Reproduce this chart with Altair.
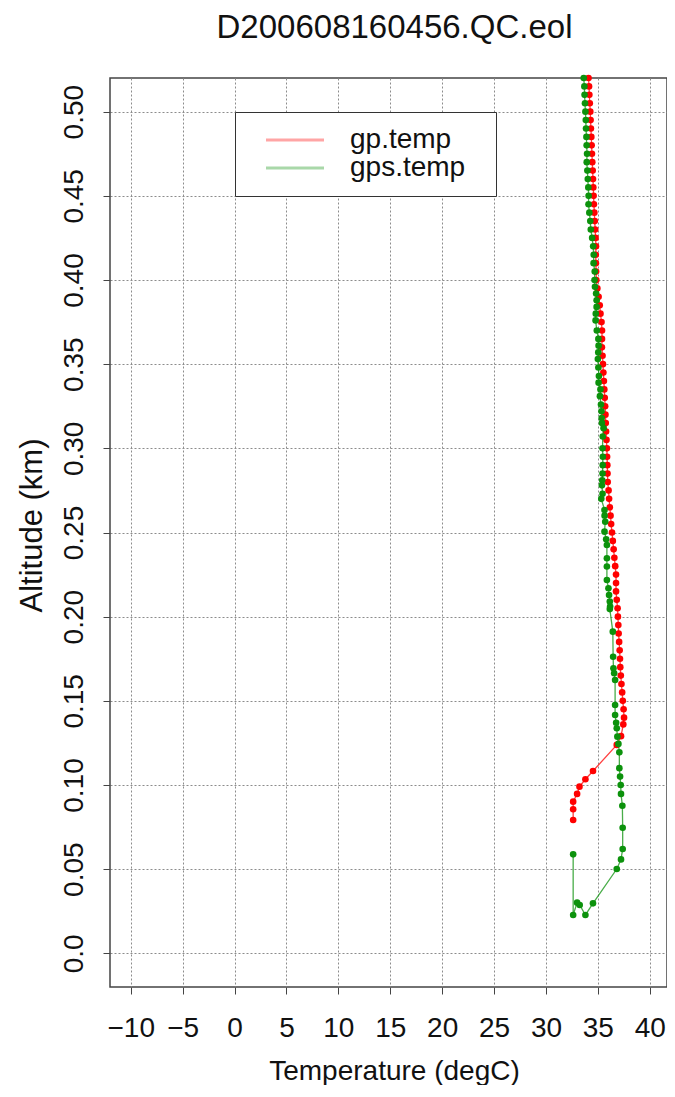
import altair as alt
import pandas as pd

# gp.temp series (altitude km, temperature degC), in recorded order
gp_alt = [0.520, 0.515, 0.510, 0.505, 0.500, 0.495, 0.490, 0.485, 0.480, 0.475,
          0.470, 0.465, 0.460, 0.455, 0.450, 0.445, 0.440, 0.435, 0.430, 0.425,
          0.420, 0.415, 0.410, 0.405, 0.400, 0.395, 0.390, 0.385, 0.380, 0.375,
          0.370, 0.365, 0.360, 0.355, 0.350, 0.345, 0.340, 0.335, 0.330, 0.325,
          0.320, 0.315, 0.310, 0.305, 0.300, 0.295, 0.290, 0.285, 0.280, 0.275,
          0.270, 0.265, 0.260, 0.255, 0.250, 0.245, 0.240, 0.235, 0.230, 0.225,
          0.220, 0.215, 0.210, 0.205, 0.200, 0.195, 0.190, 0.185, 0.180, 0.175,
          0.170, 0.165, 0.160, 0.155, 0.150, 0.145, 0.140, 0.136, 0.129, 0.1238,
          0.1083, 0.1034, 0.099, 0.0947, 0.0901, 0.0856, 0.0792]
gp_temp = [34.10, 34.15, 34.18, 34.22, 34.27, 34.30, 34.33, 34.37, 34.40, 34.43,
           34.46, 34.50, 34.53, 34.56, 34.59, 34.62, 34.66, 34.70, 34.74, 34.78,
           34.82, 34.80, 34.81, 34.83, 34.85, 34.95, 35.07, 35.18, 35.25, 35.35,
           35.40, 35.40, 35.39, 35.45, 35.49, 35.53, 35.58, 35.62, 35.66, 35.70,
           35.73, 35.76, 35.79, 35.83, 35.87, 35.89, 35.91, 35.93, 35.95, 36.03,
           36.08, 36.15, 36.22, 36.28, 36.36, 36.44, 36.52, 36.59, 36.67, 36.75,
           36.75, 36.75, 36.82, 36.90, 36.93, 36.97, 37.00, 37.05, 37.10, 37.13,
           37.16, 37.21, 37.27, 37.34, 37.40, 37.48, 37.52, 37.45, 37.23, 36.82,
           34.53, 33.80, 33.23, 33.00, 32.62, 32.62, 32.62]

# gps.temp series (altitude km, temperature degC), in recorded order
gps_alt = [0.520, 0.515, 0.510, 0.505, 0.500, 0.495, 0.490, 0.485, 0.480, 0.475,
           0.470, 0.465, 0.460, 0.455, 0.450, 0.445, 0.440, 0.435, 0.430, 0.425,
           0.420, 0.415, 0.410, 0.405, 0.400, 0.396, 0.392, 0.388, 0.384, 0.380,
           0.376, 0.370, 0.365, 0.361, 0.357, 0.353, 0.348, 0.343, 0.339, 0.335,
           0.331, 0.326, 0.322, 0.318, 0.315, 0.312, 0.307, 0.300, 0.295, 0.290,
           0.285, 0.281, 0.278, 0.273, 0.270, 0.2634, 0.260, 0.2564, 0.2505, 0.246,
           0.2426, 0.2347, 0.2298, 0.2218, 0.2169, 0.2129, 0.209, 0.206, 0.2045, 0.1911,
           0.1762, 0.1693, 0.1664, 0.1624, 0.1475, 0.1416, 0.137, 0.1337, 0.1287, 0.1244,
           0.1194, 0.110, 0.105, 0.100, 0.0947, 0.0877, 0.0746, 0.062, 0.0558, 0.0501,
           0.0297, 0.0228, 0.0287, 0.0301, 0.0228, 0.0588]
gps_temp = [33.64, 33.70, 33.72, 33.76, 33.80, 33.84, 33.86, 33.90, 33.92, 33.96,
            33.93, 33.99, 34.03, 34.08, 34.11, 34.10, 34.18, 34.27, 34.32, 34.45,
            34.55, 34.60, 34.59, 34.70, 34.68, 34.72, 34.83, 34.88, 34.88, 34.80,
            34.78, 34.90, 35.05, 35.07, 35.04, 35.00, 35.05, 35.10, 35.07, 35.25,
            35.20, 35.30, 35.35, 35.37, 35.39, 35.55, 35.47, 35.45, 35.48, 35.47,
            35.45, 35.42, 35.39, 35.45, 35.33, 35.64, 35.65, 35.71, 35.64, 35.80,
            35.87, 35.87, 35.87, 35.87, 36.02, 36.08, 36.15, 36.18, 36.15, 36.44,
            36.47, 36.50, 36.57, 36.66, 36.66, 36.66, 36.76, 36.82, 36.88, 36.98,
            37.07, 37.07, 37.14, 37.20, 37.23, 37.36, 37.39, 37.39, 37.23, 36.82,
            34.53, 33.80, 33.25, 33.00, 32.62, 32.62]

series_names = ["gp.temp", "gps.temp"]
series_colors = ["#ff0000", "#0c920c"]
x_ticks = [-10, -5, 0, 5, 10, 15, 20, 25, 30, 35, 40]
y_ticks = [0.0, 0.05, 0.10, 0.15, 0.20, 0.25, 0.30, 0.35, 0.40, 0.45, 0.50]

rows = []
for i, (a, t) in enumerate(zip(gp_alt, gp_temp)):
    rows.append({"series": series_names[0], "idx": i, "alt": a, "temp": t})
for i, (a, t) in enumerate(zip(gps_alt, gps_temp)):
    rows.append({"series": series_names[1], "idx": i, "alt": a, "temp": t})
df = pd.DataFrame(rows)

FONT = "Liberation Sans"
GRID = "#8c8c8c"

x_enc = alt.X("temp:Q",
              scale=alt.Scale(domain=[-12, 41.66], nice=False, zero=False),
              axis=alt.Axis(values=x_ticks, title="Temperature (degC)",
                            labelFontSize=28, titleFontSize=28,
                            labelFont=FONT, titleFont=FONT, titleFontWeight="normal",
                            labelColor="#111", titleColor="#111",
                            tickSize=7, tickColor="#444", domain=False,
                            grid=True, gridColor=GRID, gridDash=[2, 2],
                            labelPadding=20, labelFlush=False, labelOverlap=False,
                            titleBaseline="alphabetic", titleY=92, titleX=284))
y_enc = alt.Y("alt:Q",
              scale=alt.Scale(domain=[-0.02, 0.52], nice=False, zero=False),
              axis=alt.Axis(values=y_ticks, title="Altitude (km)",
                            labelExpr="datum.value == 0 ? '0.0' : format(datum.value, '.2f')",
                            labelFontSize=28, titleFontSize=31,
                            labelFont=FONT, titleFont=FONT, titleFontWeight="normal",
                            labelColor="#111", titleColor="#111",
                            labelAngle=270, labelAlign="center", labelBaseline="alphabetic",
                            tickSize=7, tickColor="#444", domain=False,
                            grid=True, gridColor=GRID, gridDash=[2, 2],
                            labelPadding=21, labelFlush=False, labelOverlap=False,
                            titleAngle=270, titleAlign="center", titleBaseline="alphabetic",
                            titleX=-69, titleY=447))
color_scale = alt.Scale(domain=series_names, range=series_colors)

base = alt.Chart(df)

lines = base.mark_line(strokeWidth=1.3, opacity=0.75).encode(
    x=x_enc, y=y_enc,
    color=alt.Color("series:N", scale=color_scale,
                    legend=alt.Legend(orient="none", legendX=125, legendY=34,
                                      title="M", titleFontSize=10, titleOpacity=0,
                                      titleOrient="right", titlePadding=8,
                                      symbolType="M-5,0H5", symbolSize=134.56,
                                      symbolStrokeWidth=3, symbolOpacity=0.35,
                                      labelFontSize=28, labelFont=FONT, labelColor="#111",
                                      labelOffset=41, padding=14, symbolOffset=32,
                                      strokeColor="#333", fillColor="white",
                                      rowPadding=0)),
    detail="series:N",
    order="idx:Q",
)

points = base.mark_circle(size=44, opacity=1).encode(
    x=x_enc, y=y_enc,
    color=alt.Color("series:N", scale=color_scale, legend=None),
)

layers = []
for s in series_names:
    layers.append(lines.transform_filter(alt.datum.series == s))
    layers.append(points.transform_filter(alt.datum.series == s))

chart = alt.layer(*layers).properties(
    width=557, height=909,
    autosize=alt.AutoSizeParams(type="none"),
    padding={"left": 102, "top": 70, "right": 0, "bottom": 98},
    title=alt.TitleParams("D200608160456.QC.eol", fontSize=33, font=FONT,
                          fontWeight="normal", anchor="middle", frame="group",
                          baseline="alphabetic", offset=4, dx=6, color="#111"),
).configure_view(stroke="#444", strokeWidth=1.5)

chart.save("out.html", embed_options={"renderer": "svg", "actions": False})
